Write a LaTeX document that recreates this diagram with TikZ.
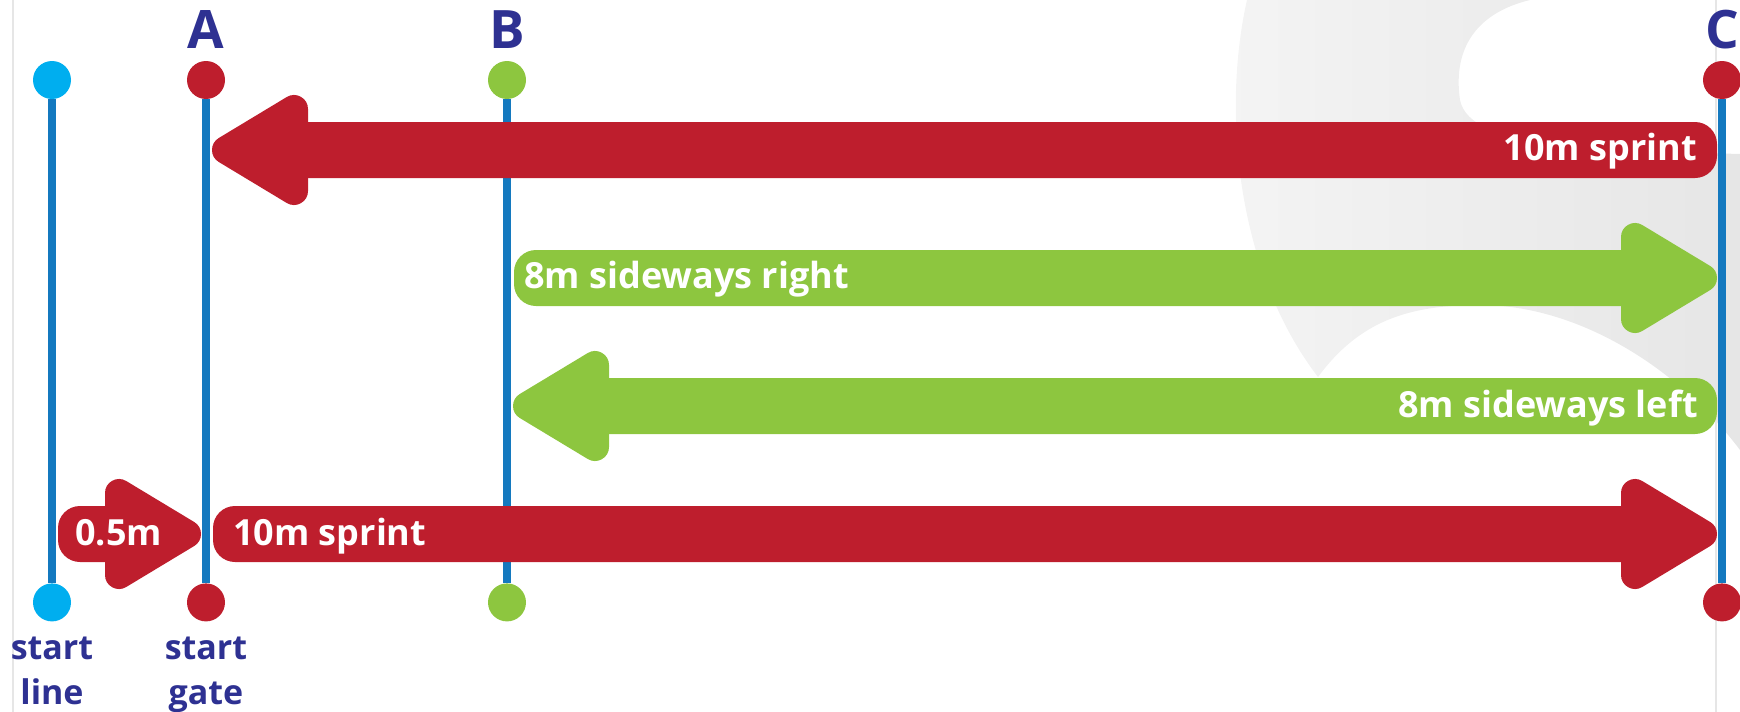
\documentclass[tikz,border=0pt]{standalone}
\usepackage{fontspec}
\setmainfont{Open Sans}
\usetikzlibrary{positioning, calc}

\definecolor{sprintred}{HTML}{BE1E2D}
\definecolor{sidegreen}{HTML}{8DC63F}
\definecolor{poleblue}{HTML}{1479BF}
\definecolor{startcyan}{HTML}{00AEEF}
\definecolor{labelnavy}{HTML}{2E3192}
\definecolor{markLight}{HTML}{F4F4F4}
\definecolor{markDark}{HTML}{E6E6E6}
\definecolor{edgegray}{HTML}{E6E6E6}

% fat arrow: colour, tail, tip (shaft + round-joined head)
\newcommand{\fatarrow}[3]{%
  \fill[#1] let \p1=(#2), \p2=(#3), \n1={(\x2-\x1)/abs(\x2-\x1)} in
    [rounded corners=22pt] (\x1,{\y1-28pt}) rectangle ({\x2-70pt*\n1},{\y1+28pt});
  \filldraw[#1, line width=28pt, line join=round]
    let \p1=(#2), \p2=(#3), \n1={(\x2-\x1)/abs(\x2-\x1)} in
    ({\x2-82pt*\n1},{\y1+41pt}) -- ({\x2-14pt*\n1},\y1)
    -- ({\x2-82pt*\n1},{\y1-41pt}) -- cycle;}

\begin{document}
\begin{tikzpicture}[
    x=1pt, y=-1pt,
    dot/.style={circle, inner sep=0pt, minimum size=38pt},
    pole/.style={draw=poleblue, line width=8pt},
    letter/.style={
        font=\fontsize{53}{53}\selectfont\bfseries,
        text=labelnavy, inner sep=0pt
    },
    caption/.style={
        font=\fontsize{34}{45}\selectfont\bfseries,
        text=labelnavy, align=center, inner sep=0pt
    },
    arrowtext/.style={
        font=\fontsize{36}{36}\selectfont\bfseries,
        text=white, inner sep=0pt
    }
]
\useasboundingbox (0,0) rectangle (1740,712);
\clip (0,0) rectangle (1740,712);

% ===================== BACKGROUND MARK =====================
\shade[left color=markLight, right color=markDark]
  (1247,0) .. controls (1222,110) and (1236,270) .. (1318,377)
  .. controls (1360,320) and (1410,305) .. (1480,305)
  .. controls (1580,305) and (1680,370) .. (1740,450)
  -- (1740,154)
  .. controls (1600,150) and (1470,150) .. (1460,100)
  .. controls (1452,45) and (1480,12) .. (1530,0)
  -- cycle;

\draw[edgegray, line width=1.5pt] (13,0) -- (13,712);
\draw[edgegray, line width=1.5pt] (1716,0) -- (1716,712);

% ===================== POLES =====================
\node[dot, fill=startcyan] (slTop) at (52,80) {};
\node[dot, fill=sprintred] (aTop) at (206,80) {};
\node[dot, fill=sidegreen] (bTop) at (507,80) {};
\node[dot, fill=sprintred] (cTop) at (1722,80) {};

\node[dot, fill=startcyan, below=484pt of slTop] (slBot) {};
\node[dot, fill=sprintred, below=484pt of aTop] (aBot) {};
\node[dot, fill=sidegreen, below=484pt of bTop] (bBot) {};
\node[dot, fill=sprintred, below=484pt of cTop] (cBot) {};

\draw[pole] (slTop) -- (slBot);
\draw[pole] (aTop) -- (aBot);
\draw[pole] (bTop) -- (bBot);
\draw[pole] (cTop) -- (cBot);

\node[letter, above=12pt of aTop] (aLabel) {A};
\node[letter, above=12pt of bTop] (bLabel) {B};
\node[letter, above=12pt of cTop] (cLabel) {C};

\node[caption, below=15pt of slBot] (slText) {start\\line};
\node[caption, below=15pt of aBot] (aText) {start\\gate};

% ===================== ARROW ROWS =====================
\coordinate (row1) at (0,150);
\coordinate (row2) at (0,278);
\coordinate (row3) at (0,406);
\coordinate (row4) at (0,534);

\fatarrow{sprintred}{$(cTop |- row1)+(-5,0)$}{$(aTop |- row1)+(6,0)$}
\fatarrow{sidegreen}{$(bTop |- row2)+(7,0)$}{$(cTop |- row2)+(-5,0)$}
\fatarrow{sidegreen}{$(cTop |- row3)+(-5,0)$}{$(bTop |- row3)+(6,0)$}
\fatarrow{sprintred}{$(slTop |- row4)+(6,0)$}{$(aTop |- row4)+(-5,0)$}
\fatarrow{sprintred}{$(aTop |- row4)+(7,0)$}{$(cTop |- row4)+(-5,0)$}

\node[arrowtext, anchor=base east] (sprintBack) at ($(cTop |- row1)+(-25,10)$) {10m sprint};
\node[arrowtext, anchor=base west] (sideRight) at ($(bTop |- row2)+(17,10)$) {8m sideways right};
\node[arrowtext, anchor=base east] (sideLeft) at ($(cTop |- row3)+(-24,11)$) {8m sideways left};
\node[arrowtext, anchor=base west] (halfMetre) at ($(slTop |- row4)+(23,11)$) {0.5m};
\node[arrowtext, anchor=base west] (sprintOut) at ($(aTop |- row4)+(27,11)$) {10m sprint};

\end{tikzpicture}
\end{document}
